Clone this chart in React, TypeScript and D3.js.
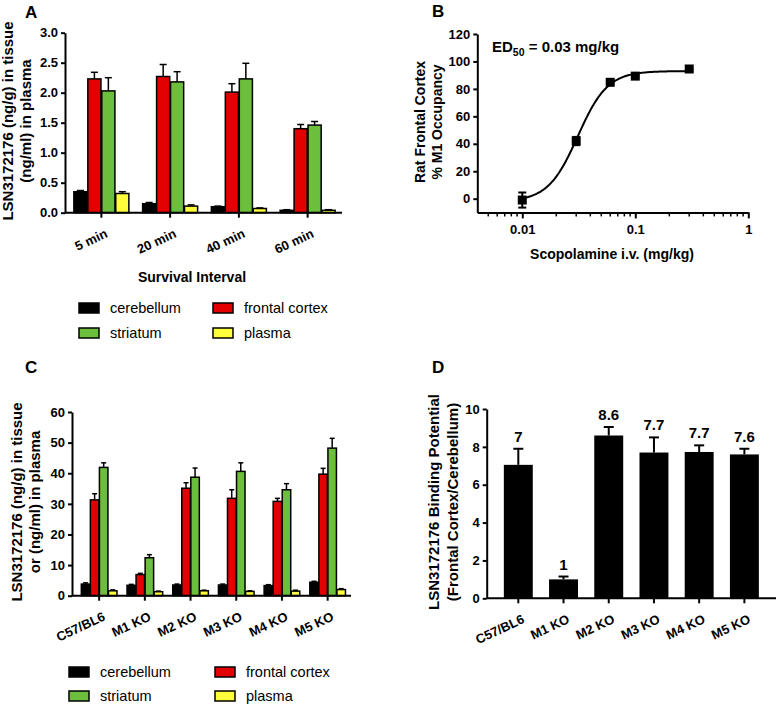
import React, { useRef, useEffect } from "react";
import * as d3 from "d3";

const FONT = "'Liberation Sans', Arial, Helvetica, sans-serif";

const tissues = ["cerebellum", "frontal cortex", "striatum", "plasma"];
const tissueColors = ["#000000", "#e20000", "#6cbf3c", "#ffff3c"];

// A: tissue / plasma levels by survival interval
const intervals = ["5 min", "20 min", "40 min", "60 min"];
const aCerebellum = [0.35, 0.15, 0.1, 0.04];
const aFrontal = [2.23, 2.27, 2.01, 1.4];
const aStriatum = [2.03, 2.18, 2.23, 1.46];
const aPlasma = [0.32, 0.11, 0.07, 0.04];
const aCerebellumErr = [0.02, 0.02, 0.01, 0.01];
const aFrontalErr = [0.11, 0.2, 0.14, 0.07];
const aStriatumErr = [0.22, 0.17, 0.26, 0.06];
const aPlasmaErr = [0.03, 0.02, 0.01, 0.01];
const aTicks = [0, 0.5, 1, 1.5, 2, 2.5, 3];

// B: M1 occupancy vs scopolamine dose
const doses = [0.01, 0.03, 0.06, 0.1, 0.3];
const occupancy = [-1, 42, 84.8, 89.3, 94.5];
const occupancyErr = [5.5, 3, 1, 1, 0.5];
const fitBottom = -2;
const fitTop = 93;
const fitEd50 = 0.031;
const fitHill = 3.3;
const bYTicks = [0, 20, 40, 60, 80, 100, 120];
const bXTicks = [0.01, 0.1, 1];

// C: tissue / plasma levels by knockout strain
const strains = ["C57/BL6", "M1 KO", "M2 KO", "M3 KO", "M4 KO", "M5 KO"];
const cCerebellum = [3.8, 3.4, 3.5, 3.5, 3.3, 4.4];
const cFrontal = [31.3, 6.9, 35.1, 31.8, 30.8, 39.7];
const cStriatum = [41.9, 12.4, 38.7, 40.6, 34.6, 48.2];
const cPlasma = [1.6, 1.3, 1.6, 1.4, 1.5, 2.0];
const cCerebellumErr = [0.4, 0.3, 0.3, 0.3, 0.3, 0.3];
const cFrontalErr = [2.0, 0.4, 1.8, 2.8, 1.0, 1.9];
const cStriatumErr = [1.5, 1.0, 3.0, 2.8, 2.0, 3.2];
const cPlasmaErr = [0.3, 0.2, 0.2, 0.2, 0.3, 0.3];
const cTicks = [0, 10, 20, 30, 40, 50, 60];

// D: binding potential
const bindingPotential = [7.05, 1.0, 8.6, 7.7, 7.73, 7.6];
const bindingErr = [0.85, 0.15, 0.45, 0.8, 0.35, 0.3];
const bindingLabels = ["7", "1", "8.6", "7.7", "7.7", "7.6"];
const dTicks = [0, 2, 4, 6, 8, 10];

const styleAxis = (ax) => {
    ax.attr("font-family", FONT).attr("font-size", 13).attr("font-weight", "bold");
    ax.select(".domain").attr("stroke", "#000").attr("stroke-width", 2);
    ax.selectAll(".tick line").attr("stroke", "#000").attr("stroke-width", 2);
    ax.selectAll(".tick text").attr("fill", "#000");
};

const drawYAxis = (svg, y, x0, ticks, fmt) => {
    const ax = svg
        .append("g")
        .attr("transform", `translate(${x0},0)`)
        .call(d3.axisLeft(y).tickValues(ticks).tickFormat(fmt).tickSize(4).tickSizeOuter(0).tickPadding(3));
    styleAxis(ax);
};

const drawBandAxis = (svg, x, y0, xStart, xEnd) => {
    const ax = svg
        .append("g")
        .attr("transform", `translate(0,${y0})`)
        .call(d3.axisBottom(x).tickSize(5).tickSizeOuter(0));
    ax.select(".domain").remove();
    ax.append("line").attr("x1", xStart).attr("x2", xEnd).attr("stroke", "#000").attr("stroke-width", 2);
    styleAxis(ax);
    ax.selectAll(".tick text")
        .attr("y", 0)
        .attr("dy", 0)
        .attr("text-anchor", "end")
        .attr("transform", "translate(7,24) rotate(-25)");
};

const drawGroupedBars = (svg, x, y, groups, values, errs, capW) => {
    const inner = d3.scaleBand().domain(tissues).range([0, x.bandwidth()]).paddingInner(0.06);
    const rows = groups.flatMap((grp, i) =>
        tissues.map((t, s) => ({ grp, t, s, v: values[s][i], e: errs[s][i] }))
    );
    const cx = (d) => x(d.grp) + inner(d.t) + inner.bandwidth() / 2;
    const g = svg.append("g");
    g.selectAll("rect")
        .data(rows)
        .join("rect")
        .attr("x", (d) => x(d.grp) + inner(d.t))
        .attr("y", (d) => y(d.v))
        .attr("width", inner.bandwidth())
        .attr("height", (d) => y(0) - y(d.v))
        .attr("fill", (d) => tissueColors[d.s])
        .attr("stroke", "#000")
        .attr("stroke-width", 1.5);
    g.selectAll("line.err")
        .data(rows)
        .join("line")
        .attr("class", "err")
        .attr("x1", cx)
        .attr("x2", cx)
        .attr("y1", (d) => y(d.v))
        .attr("y2", (d) => y(d.v + d.e))
        .attr("stroke", "#000")
        .attr("stroke-width", 1.5);
    g.selectAll("line.cap")
        .data(rows)
        .join("line")
        .attr("class", "cap")
        .attr("x1", (d) => cx(d) - capW / 2)
        .attr("x2", (d) => cx(d) + capW / 2)
        .attr("y1", (d) => y(d.v + d.e))
        .attr("y2", (d) => y(d.v + d.e))
        .attr("stroke", "#000")
        .attr("stroke-width", 1.5);
};

const drawLegend = (svg, cols, rowsTop) => {
    const g = svg.append("g").attr("font-family", FONT).attr("font-size", 14.5);
    tissues.forEach((t, i) => {
        const x0 = cols[i % 2];
        const y0 = rowsTop[Math.floor(i / 2)];
        g.append("rect")
            .attr("x", x0)
            .attr("y", y0)
            .attr("width", 20)
            .attr("height", 10)
            .attr("fill", tissueColors[i])
            .attr("stroke", "#000")
            .attr("stroke-width", 1.5);
        g.append("text").attr("x", x0 + 31).attr("y", y0 + 10).text(t);
    });
};

const drawTitle = (svg, lines, xs, cy, size) => {
    lines.forEach((line, i) => {
        svg.append("text")
            .attr("transform", `translate(${xs[i]},${cy}) rotate(-90)`)
            .attr("text-anchor", "middle")
            .attr("font-family", FONT)
            .attr("font-size", size)
            .attr("font-weight", "bold")
            .text(line);
    });
};

const drawLetter = (svg, letter, x, y) => {
    svg.append("text")
        .attr("x", x)
        .attr("y", y)
        .attr("font-family", FONT)
        .attr("font-size", 17)
        .attr("font-weight", "bold")
        .text(letter);
};

const App = () => {
    const ref = useRef(null);

    useEffect(() => {
        if (!ref.current) return;
        const svg = d3.select(ref.current);
        svg.selectAll("*").remove();

        // ---- Panel A ----
        const xA = d3.scaleBand().domain(intervals).range([67, 342]).paddingInner(0.2).paddingOuter(0.1);
        const yA = d3.scaleLinear().domain([0, 3]).range([212.7, 32.7]);
        drawGroupedBars(
            svg, xA, yA, intervals,
            [aCerebellum, aFrontal, aStriatum, aPlasma],
            [aCerebellumErr, aFrontalErr, aStriatumErr, aPlasmaErr],
            7
        );
        drawYAxis(svg, yA, 65, aTicks, d3.format(".1f"));
        drawBandAxis(svg, xA, 212.7, 65, 342);
        drawTitle(svg, ["LSN3172176 (ng/g) in tissue", "(ng/ml) in plasma"], [13, 31], 121, 15);
        svg.append("text")
            .attr("x", 192)
            .attr("y", 281.5)
            .attr("text-anchor", "middle")
            .attr("font-family", FONT)
            .attr("font-size", 14)
            .attr("font-weight", "bold")
            .text("Survival Interval");
        drawLegend(svg, [79, 213], [303, 328]);
        drawLetter(svg, "A", 25, 18);

        // ---- Panel B ----
        const xB = d3.scaleLog().domain([0.004, 1]).range([477.3, 748.3]);
        const yB = d3.scaleLinear().domain([-10, 120]).range([212.4, 34]);
        const fit = (d) => fitBottom + (fitTop - fitBottom) / (1 + Math.pow(fitEd50 / d, fitHill));
        const curveDoses = d3.range(0, 201).map((i) => 0.01 * Math.pow(30, i / 200));
        svg.append("path")
            .datum(curveDoses)
            .attr("fill", "none")
            .attr("stroke", "#000")
            .attr("stroke-width", 2)
            .attr("d", d3.line().x((d) => xB(d)).y((d) => yB(fit(d))));

        const pts = doses.map((d, i) => ({ d, v: occupancy[i], e: occupancyErr[i] }));
        const gB = svg.append("g");
        gB.selectAll("line.err")
            .data(pts)
            .join("line")
            .attr("class", "err")
            .attr("x1", (p) => xB(p.d))
            .attr("x2", (p) => xB(p.d))
            .attr("y1", (p) => yB(p.v - p.e))
            .attr("y2", (p) => yB(p.v + p.e))
            .attr("stroke", "#000")
            .attr("stroke-width", 2);
        [1, -1].forEach((sgn) => {
            gB.selectAll(`line.cap${sgn}`)
                .data(pts)
                .join("line")
                .attr("class", `cap${sgn}`)
                .attr("x1", (p) => xB(p.d) - 4)
                .attr("x2", (p) => xB(p.d) + 4)
                .attr("y1", (p) => yB(p.v + sgn * p.e))
                .attr("y2", (p) => yB(p.v + sgn * p.e))
                .attr("stroke", "#000")
                .attr("stroke-width", 2);
        });
        gB.selectAll("rect")
            .data(pts)
            .join("rect")
            .attr("x", (p) => xB(p.d) - 4.5)
            .attr("y", (p) => yB(p.v) - 4.5)
            .attr("width", 9)
            .attr("height", 9)
            .attr("fill", "#000");

        drawYAxis(svg, yB, 477.3, bYTicks, d3.format("d"));
        const axB = svg
            .append("g")
            .attr("transform", `translate(0,${yB(-10)})`)
            .call(d3.axisBottom(xB).tickValues(bXTicks).tickFormat(d3.format("~g")).tickSize(6).tickSizeOuter(0).tickPadding(6));
        styleAxis(axB);
        axB.selectAll("line.minor")
            .data(xB.ticks().filter((t) => t > 0.0045 && !bXTicks.some((m) => Math.abs(m - t) < 1e-9)))
            .join("line")
            .attr("class", "minor")
            .attr("x1", (t) => xB(t))
            .attr("x2", (t) => xB(t))
            .attr("y1", 0)
            .attr("y2", 4)
            .attr("stroke", "#000")
            .attr("stroke-width", 1.5);
        drawTitle(svg, ["Rat Frontal Cortex", "% M1 Occupancy"], [425, 442], 122, 14);
        svg.append("text")
            .attr("x", 612)
            .attr("y", 259)
            .attr("text-anchor", "middle")
            .attr("font-family", FONT)
            .attr("font-size", 14)
            .attr("font-weight", "bold")
            .text("Scopolamine i.v. (mg/kg)");
        const ed = svg.append("text")
            .attr("x", 492)
            .attr("y", 51.5)
            .attr("font-family", FONT)
            .attr("font-size", 15)
            .attr("font-weight", "bold");
        ed.append("tspan").text("ED");
        ed.append("tspan").attr("dy", 4).attr("font-size", 10.5).text("50");
        ed.append("tspan").attr("dy", -4).text(" = 0.03 mg/kg");
        drawLetter(svg, "B", 432, 17);

        // ---- Panel C ----
        const xC = d3.scaleBand().domain(strains).range([76.3, 350.5]).paddingInner(0.22).paddingOuter(0.11);
        const yC = d3.scaleLinear().domain([0, 60]).range([595.7, 412]);
        drawGroupedBars(
            svg, xC, yC, strains,
            [cCerebellum, cFrontal, cStriatum, cPlasma],
            [cCerebellumErr, cFrontalErr, cStriatumErr, cPlasmaErr],
            5
        );
        drawYAxis(svg, yC, 72, cTicks, d3.format("d"));
        drawBandAxis(svg, xC, 595.7, 72, 351);
        drawTitle(svg, ["LSN3172176 (ng/g) in tissue", "or (ng/ml) in plasma"], [22, 40], 502, 15);
        drawLegend(svg, [69, 215], [667, 691]);
        drawLetter(svg, "C", 25, 373);

        // ---- Panel D ----
        const xD = d3.scaleBand().domain(strains).range([495.7, 767]).paddingInner(0.36).paddingOuter(0.18);
        const yD = d3.scaleLinear().domain([0, 10]).range([598.3, 409]);
        const bp = strains.map((s, i) => ({ s, v: bindingPotential[i], e: bindingErr[i], label: bindingLabels[i] }));
        const gD = svg.append("g");
        const cxD = (p) => xD(p.s) + xD.bandwidth() / 2;
        gD.selectAll("line.err")
            .data(bp)
            .join("line")
            .attr("class", "err")
            .attr("x1", cxD)
            .attr("x2", cxD)
            .attr("y1", (p) => yD(p.v))
            .attr("y2", (p) => yD(p.v + p.e))
            .attr("stroke", "#000")
            .attr("stroke-width", 2);
        gD.selectAll("line.cap")
            .data(bp)
            .join("line")
            .attr("class", "cap")
            .attr("x1", (p) => cxD(p) - 5)
            .attr("x2", (p) => cxD(p) + 5)
            .attr("y1", (p) => yD(p.v + p.e))
            .attr("y2", (p) => yD(p.v + p.e))
            .attr("stroke", "#000")
            .attr("stroke-width", 2);
        gD.selectAll("rect")
            .data(bp)
            .join("rect")
            .attr("x", (p) => xD(p.s))
            .attr("y", (p) => yD(p.v))
            .attr("width", xD.bandwidth())
            .attr("height", (p) => yD(0) - yD(p.v))
            .attr("fill", "#000");
        gD.selectAll("text")
            .data(bp)
            .join("text")
            .attr("x", cxD)
            .attr("y", (p) => yD(p.v + p.e) - 7)
            .attr("text-anchor", "middle")
            .attr("font-family", FONT)
            .attr("font-size", 15)
            .attr("font-weight", "bold")
            .text((p) => p.label);
        drawYAxis(svg, yD, 486.7, dTicks, d3.format("d"));
        drawBandAxis(svg, xD, 598.3, 486.7, 776);
        drawTitle(svg, ["LSN3172176 Binding Potential", "(Frontal Cortex/Cerebellum)"], [439, 458], 502, 15);
        drawLetter(svg, "D", 432, 373);
    }, []);

    return (
        <svg
            ref={ref}
            width={777}
            height={704}
            style={{ position: "absolute", left: 0, top: 0, background: "#fff" }}
        />
    );
};

export default App;
